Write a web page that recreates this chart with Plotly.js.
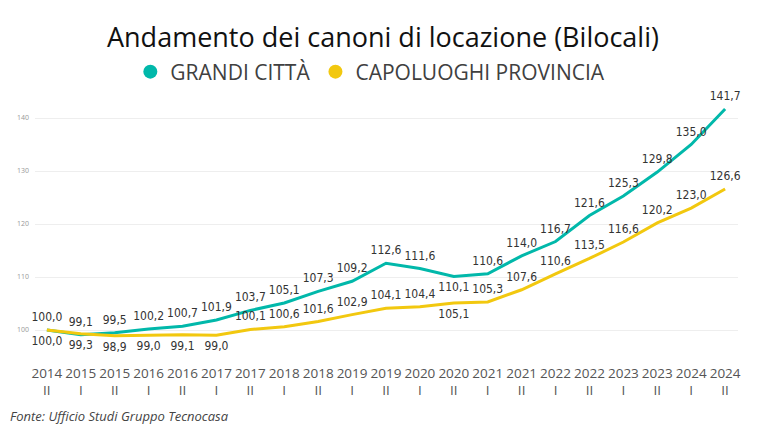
<!DOCTYPE html>
<html>
<head>
<meta charset="utf-8">
<script src="https://cdn.plot.ly/plotly-3.0.1.min.js"></script>
<style>html,body{margin:0;padding:0;background:#fff;}#chart{width:784px;height:437px;}</style>
</head>
<body>
<div id="chart"></div>
<script>
const years = ['2014','2015','2015','2016','2016','2017','2017','2018','2018','2019','2019','2020','2020','2021','2021','2022','2022','2023','2023','2024','2024'];
const halves = ['II','I','II','I','II','I','II','I','II','I','II','I','II','I','II','I','II','I','II','I','II'];
const grandiCitta = [100.0,99.1,99.5,100.2,100.7,101.9,103.7,105.1,107.3,109.2,112.6,111.6,110.1,110.6,114.0,116.7,121.6,125.3,129.8,135.0,141.7];
const capoluoghi = [100.0,99.3,98.9,99.0,99.1,99.0,100.1,100.6,101.6,102.9,104.1,104.4,105.1,105.3,107.6,110.6,113.5,116.6,120.2,123.0,126.6];
const yTicks = [100,110,120,130,140];

const periods = years.map((y,i) => y + '<br>' + halves[i]);
const teal = '#01B8AA', yellow = '#F2C80F';
const labelFont = {family: '"Liberation Sans Narrow", "DejaVu Sans Condensed", sans-serif', size: 12, color: '#333333'};

const posGrandi = grandiCitta.map((v,i) => i === 12 ? 'bottom center' : 'top center');
const posCapo = capoluoghi.map((v,i) => (i <= 5 || i === 12) ? 'bottom center' : 'top center');

const traces = [
  {x: periods, y: grandiCitta, type: 'scatter', mode: 'lines+markers+text', name: 'GRANDI CITTÀ', showlegend: false,
   line: {color: teal, width: 3}, marker: {size: 8, color: 'rgba(0,0,0,0)'},
   texttemplate: '%{y:.1f}', textposition: posGrandi, textfont: labelFont, cliponaxis: false},
  {x: periods, y: capoluoghi, type: 'scatter', mode: 'lines+markers+text', name: 'CAPOLUOGHI PROVINCIA', showlegend: false,
   line: {color: yellow, width: 3}, marker: {size: 8, color: 'rgba(0,0,0,0)'},
   texttemplate: '%{y:.1f}', textposition: posCapo, textfont: labelFont, cliponaxis: false},
  {x: [null], y: [null], type: 'scatter', mode: 'markers', name: 'GRANDI CITTÀ', marker: {color: teal, size: 14}},
  {x: [null], y: [null], type: 'scatter', mode: 'markers', name: 'CAPOLUOGHI PROVINCIA', marker: {color: yellow, size: 14}}
];

const layout = {
  width: 784, height: 437,
  margin: {l: 35, r: 46, t: 100, b: 87},
  paper_bgcolor: '#ffffff', plot_bgcolor: '#ffffff',
  separators: ',.',
  font: {family: '"Open Sans", "Noto Sans", sans-serif', color: '#444444'},
  title: {text: 'Andamento dei canoni di locazione (Bilocali)', x: 0.4885, xanchor: 'center', y: 1 - 38/437, yanchor: 'middle', yref: 'container',
          font: {family: '"Open Sans", "Noto Sans", sans-serif', size: 27, color: '#111111'}},
  showlegend: true,
  legend: {orientation: 'h', x: 0.477, xanchor: 'center', y: 1 - 72/437, yanchor: 'middle', yref: 'container',
           font: {family: '"Open Sans", "Noto Sans", sans-serif', size: 21, color: '#404040'}, itemwidth: 30, traceorder: 'normal'},
  xaxis: {type: 'category', range: [-0.35, 20.38], showgrid: false, zeroline: false, showline: false, ticks: '', tickangle: 0,
          tickfont: {family: '"Open Sans", "Noto Sans", sans-serif', size: 13.5, color: '#555555'}, ticklabelstandoff: 13, fixedrange: true},
  yaxis: {range: [96.23, 143.4], tickvals: yTicks, ticktext: yTicks.map(String), showgrid: true, gridcolor: '#eeeeee', gridwidth: 1,
          zeroline: false, showline: false, ticks: '', tickfont: {size: 7, color: '#999999'}, ticklabelstandoff: 5, fixedrange: true},
  annotations: [
    {text: '<i>Fonte: Ufficio Studi Gruppo Tecnocasa</i>', xref: 'paper', yref: 'paper', x: -27/703, y: -(416-350)/250, xanchor: 'left', yanchor: 'middle',
     showarrow: false, font: {family: '"Open Sans", "Noto Sans", sans-serif', size: 13, color: '#444444'}}
  ]
};

Plotly.newPlot('chart', traces, layout, {displayModeBar: false, staticPlot: true});
</script>
</body>
</html>
